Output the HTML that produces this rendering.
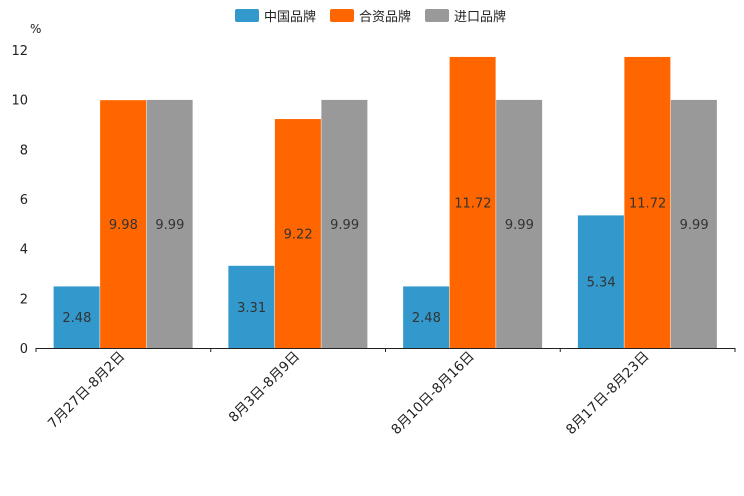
<!DOCTYPE html>
<html><head><meta charset="utf-8"><style>
body{margin:0;background:#fff}
svg{font-family:"DejaVu Sans","Noto Sans CJK SC",sans-serif;display:block}
</style></head><body>
<svg id="c" width="744" height="496"></svg>
<script>
const categories=["7月27日-8月2日","8月3日-8月9日","8月10日-8月16日","8月17日-8月23日"];
const seriesNames=["中国品牌","合资品牌","进口品牌"];
const domestic=[2.48,3.31,2.48,5.34];
const joint=[9.98,9.22,11.72,11.72];
const imported=[9.99,9.99,9.99,9.99];
const yTicks=[0,2,4,6,8,10,12];
const colors=["#3399cc","#ff6600","#999999"];
const series=[domestic,joint,imported];
const NS="http://www.w3.org/2000/svg";
const svg=document.getElementById('c');
const x0=36,x1=735,y0=348,yTop=50,yMax=12;
const y=v=>y0-(v/yMax)*(y0-yTop);
const bw=(x1-x0)/categories.length;
const xc=i=>x0+bw*(i+0.5);
function mk(t,a,p){const e=document.createElementNS(NS,t);for(const k in a)e.setAttribute(k,a[k]);(p||svg).appendChild(e);return e;}
yTicks.forEach(t=>{
 const e=mk('text',{x:28,y:y(t)+5,'text-anchor':'end','font-size':13,fill:'#222'});e.textContent=t;
 
 
});
const u=mk('text',{x:30,y:33,'font-size':12,fill:'#222'});u.textContent='%';


const barW=46.5;
categories.forEach((c,i)=>{
 series.forEach((s,j)=>{
  const bx=xc(i)-barW*1.5+j*barW;
  const r=mk('rect',{x:bx,y:y(s[i]),width:barW-0.5,height:y0-y(s[i]),fill:colors[j]});
  
  
  const t=mk('text',{x:bx+barW/2,y:(y(s[i])+y0)/2+5,'text-anchor':'middle','font-size':13,fill:'#333'});
  t.textContent=s[i].toFixed(2);
  
  
 });
 const tx=xc(i)+2,ty=357;
 const l=mk('text',{x:tx,y:ty,'text-anchor':'end','font-size':13.5,fill:'#222',transform:`rotate(-45 ${tx} ${ty})`});
 l.textContent=c;
 
 
 if(i>0){const tk=mk('line',{x1:x0+bw*i,x2:x0+bw*i,y1:y0,y2:y0+4,stroke:'#222'});
 
 }
});
const ax=mk('line',{x1:x0,x2:x1,y1:y0+0.5,y2:y0+0.5,stroke:'#222'});


const t0=mk('line',{x1:x0,x2:x0,y1:y0,y2:y0+4,stroke:'#222'});


const t9=mk('line',{x1:x1,x2:x1,y1:y0,y2:y0+4,stroke:'#222'});


const lx=[235,330,425];
seriesNames.forEach((n,j)=>{
 const g=mk('g',{});
 
 
 mk('rect',{x:lx[j],y:9,width:24,height:13,rx:2,fill:colors[j]},g);
 const t=mk('text',{x:lx[j]+29,y:21,'font-size':13,fill:'#222'},g);t.textContent=n;
});
</script>
</body></html>
